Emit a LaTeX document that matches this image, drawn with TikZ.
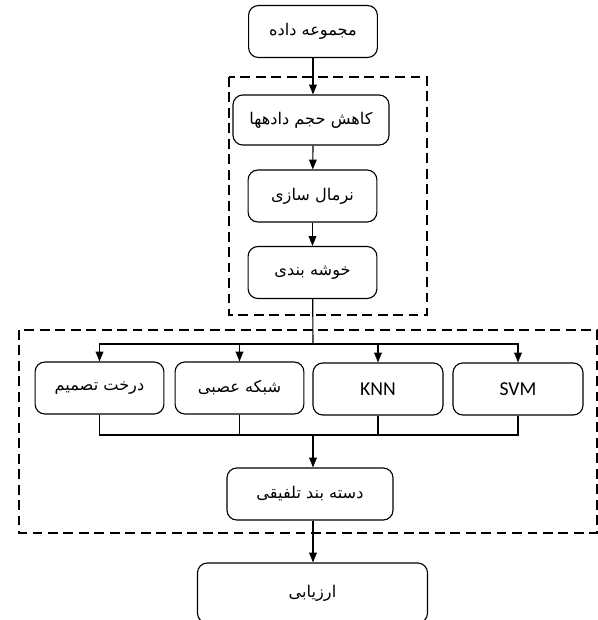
\documentclass[tikz,border=0pt]{standalone}
\usepackage{fontspec}
\setmainfont{Carlito}
\newfontfamily\farsifont[Script=Arabic]{DejaVu Sans}
\TeXXeTstate=1
\newcommand{\prs}[1]{{\farsifont\fontsize{11.5}{14}\selectfont\beginR #1\endR}}
\usetikzlibrary{arrows.meta}

\begin{document}
\begin{tikzpicture}[x=0.025cm,y=-0.025cm,
    stage/.style={draw,rounded corners=7pt,line width=0.8pt,minimum width=3.22cm,minimum height=1.3cm,font=\fontsize{14}{16}\selectfont},
    arr/.style={-{Triangle[length=7pt,width=5.5pt]},line width=0.8pt},
    link/.style={line width=0.8pt},
    group/.style={line width=1.6pt,dash pattern=on 7pt off 4pt}]
  \useasboundingbox (0,0) rectangle (598,620);
  % preprocessing
  \node[stage] (data) at (313,31.5) {\prs{مجموعه داده}};
  \node[stage,minimum width=3.9cm,minimum height=1.25cm] (reduce) at (311,120) {\prs{کاهش حجم دادهها}};
  \node[stage] (norm) at (312.5,196) {\prs{نرمال سازی}};
  \node[stage] (clust) at (312.5,272.5) {\prs{خوشه بندی}};
  \draw[group] (229,77) rectangle (427,315);
  % classifiers
  \node[stage] (tree) at (99.5,388) {\prs{درخت تصمیم}};
  \node[stage] (nn) at (239.5,388) {\prs{شبکه عصبی}};
  \node[stage,minimum width=3.25cm] (knn) at (378,389) {KNN};
  \node[stage,minimum width=3.25cm] (svm) at (518,389) {SVM};
  \node[stage,minimum width=4.15cm] (fusion) at (310,494) {\prs{دسته بند تلفیقی}};
  \draw[group] (19,330) rectangle (597,533);
  \node[stage,minimum width=5.75cm,minimum height=1.5cm] (eval) at (312.5,593) {\prs{ارزیابی}};
  \coordinate (split) at (313,344);
  \coordinate (merge) at (313,435);
  \draw[arr] (data) -- (data |- reduce.north);
  \draw[arr] (reduce.south -| data) -- (norm);
  \draw[arr] (norm) -- (clust);
  \draw[link] (clust) -- (split);
  \foreach \c in {tree,nn,knn,svm}{
    \draw[arr] (split) -| (\c.north);
    \draw[link] (\c.south) |- (merge);
  }
  \draw[arr] (merge) -- (merge |- fusion.north);
  \draw[arr] (fusion.south -| merge) -- (merge |- eval.north);
\end{tikzpicture}
\end{document}
